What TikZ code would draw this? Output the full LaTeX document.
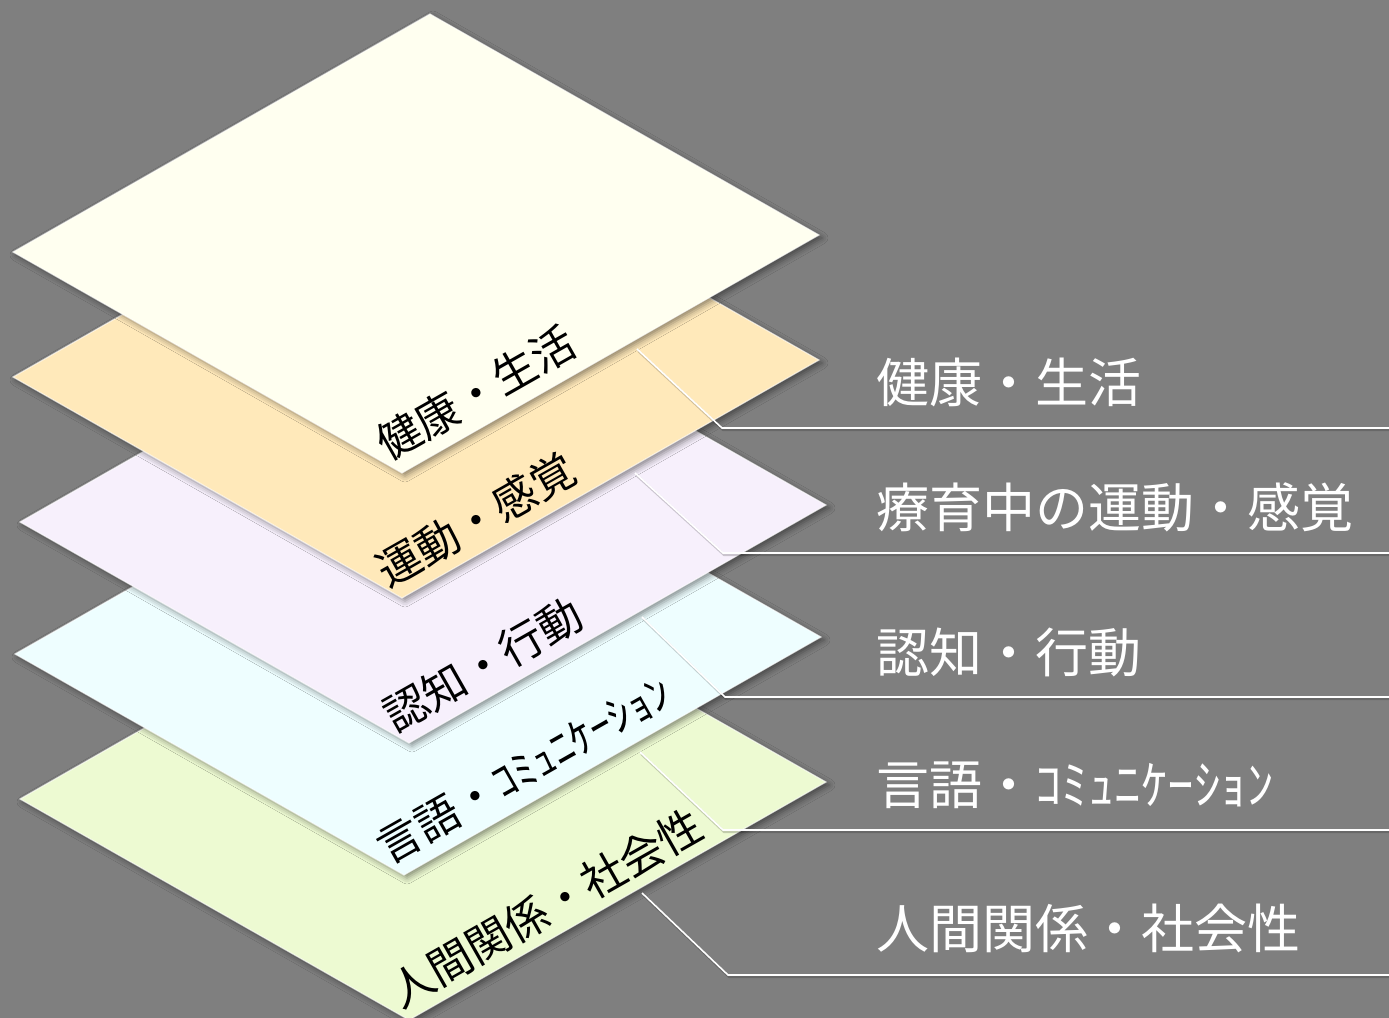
\documentclass[tikz,border=0pt]{standalone}
\usepackage{fontspec}
\setmainfont{Noto Sans CJK JP}
\usetikzlibrary{shadows.blur}
\definecolor{bg}{HTML}{7F7F7F}
\definecolor{cA}{HTML}{FFFFF0}
\definecolor{cB}{HTML}{FFE9BA}
\definecolor{cC}{HTML}{F7F0FC}
\definecolor{cD}{HTML}{EEFEFF}
\definecolor{cE}{HTML}{EDFAD2}
\newcommand\mylayer[2]{%
  \path[layerbox=#2] (#1) -- ++(417,-238) -- ++(389,221) -- ++(-417,238) -- cycle;}
\begin{document}
\begin{tikzpicture}[x=0.5pt,y=-0.5pt,
  layerbox/.style={fill=#1, draw=white, draw opacity=0.6, line width=0.6pt,
    blur shadow={shadow xshift=1.5pt, shadow yshift=-1.5pt, shadow blur radius=3pt, shadow opacity=45}},
  laylabel/.style={rotate=29.6, font=\fontsize{22}{26}\selectfont, text=black, inner sep=0pt},
  sidelabel/.style={anchor=west, font=\fontsize{26.5}{30}\selectfont, text=white, inner sep=0pt},
  leader/.style={draw=white, line width=0.8pt},
  leadershadow/.style={draw=black, draw opacity=0.18, line width=1.2pt}]
\path[fill=bg] (0,0) rectangle (1389,1018);
\useasboundingbox (0,0) rectangle (1389,1018);
% layer anchor points (left vertices)
\coordinate (LA) at (13,252);
\coordinate (LB) at (13,377);
\coordinate (LC) at (20,522);
\coordinate (LD) at (15,654);
\coordinate (LE) at (20,799);
% layers, bottom first
\mylayer{LE}{cE}
\node[laylabel] (tE) at (546,908) {人間関係・社会性};
\mylayer{LD}{cD}
\node[laylabel] (tD) at (524,770) {言語・ｺﾐｭﾆｹｰｼｮﾝ};
\mylayer{LC}{cC}
\node[laylabel] (tC) at (483,665) {認知・行動};
\mylayer{LB}{cB}
\node[laylabel] (tB) at (476,520) {運動・感覚};
\mylayer{LA}{cA}
\node[laylabel] (tA) at (476,393) {健康・生活};
% side labels
\node[sidelabel] (nA) at (876,382) {健康・生活};
\node[sidelabel] (nB) at (876,507) {療育中の運動・感覚};
\node[sidelabel] (nC) at (876,652) {認知・行動};
\node[sidelabel] (nD) at (876,785) {言語・ｺﾐｭﾆｹｰｼｮﾝ};
\node[sidelabel] (nE) at (876,928) {人間関係・社会性};
% leader coordinates
\coordinate (sA) at (637,349); \coordinate (kA) at (722,428); \coordinate (eA) at (1389,428);
\coordinate (sB) at (635,473); \coordinate (kB) at (723,553); \coordinate (eB) at (1389,553);
\coordinate (sC) at (642,617); \coordinate (kC) at (725,697); \coordinate (eC) at (1389,697);
\coordinate (sD) at (640,752); \coordinate (kD) at (723,830); \coordinate (eD) at (1389,830);
\coordinate (sE) at (642,893); \coordinate (kE) at (728,975); \coordinate (eE) at (1389,975);
\foreach \n in {A,B,C,D,E}{
  \draw[leadershadow] ([xshift=0.6pt,yshift=-1pt]s\n) -- ([xshift=0.6pt,yshift=-1pt]k\n) -- ([yshift=-1pt]e\n);
  \draw[leader] (s\n) -- (k\n) -- (e\n);
}
\end{tikzpicture}
\end{document}
